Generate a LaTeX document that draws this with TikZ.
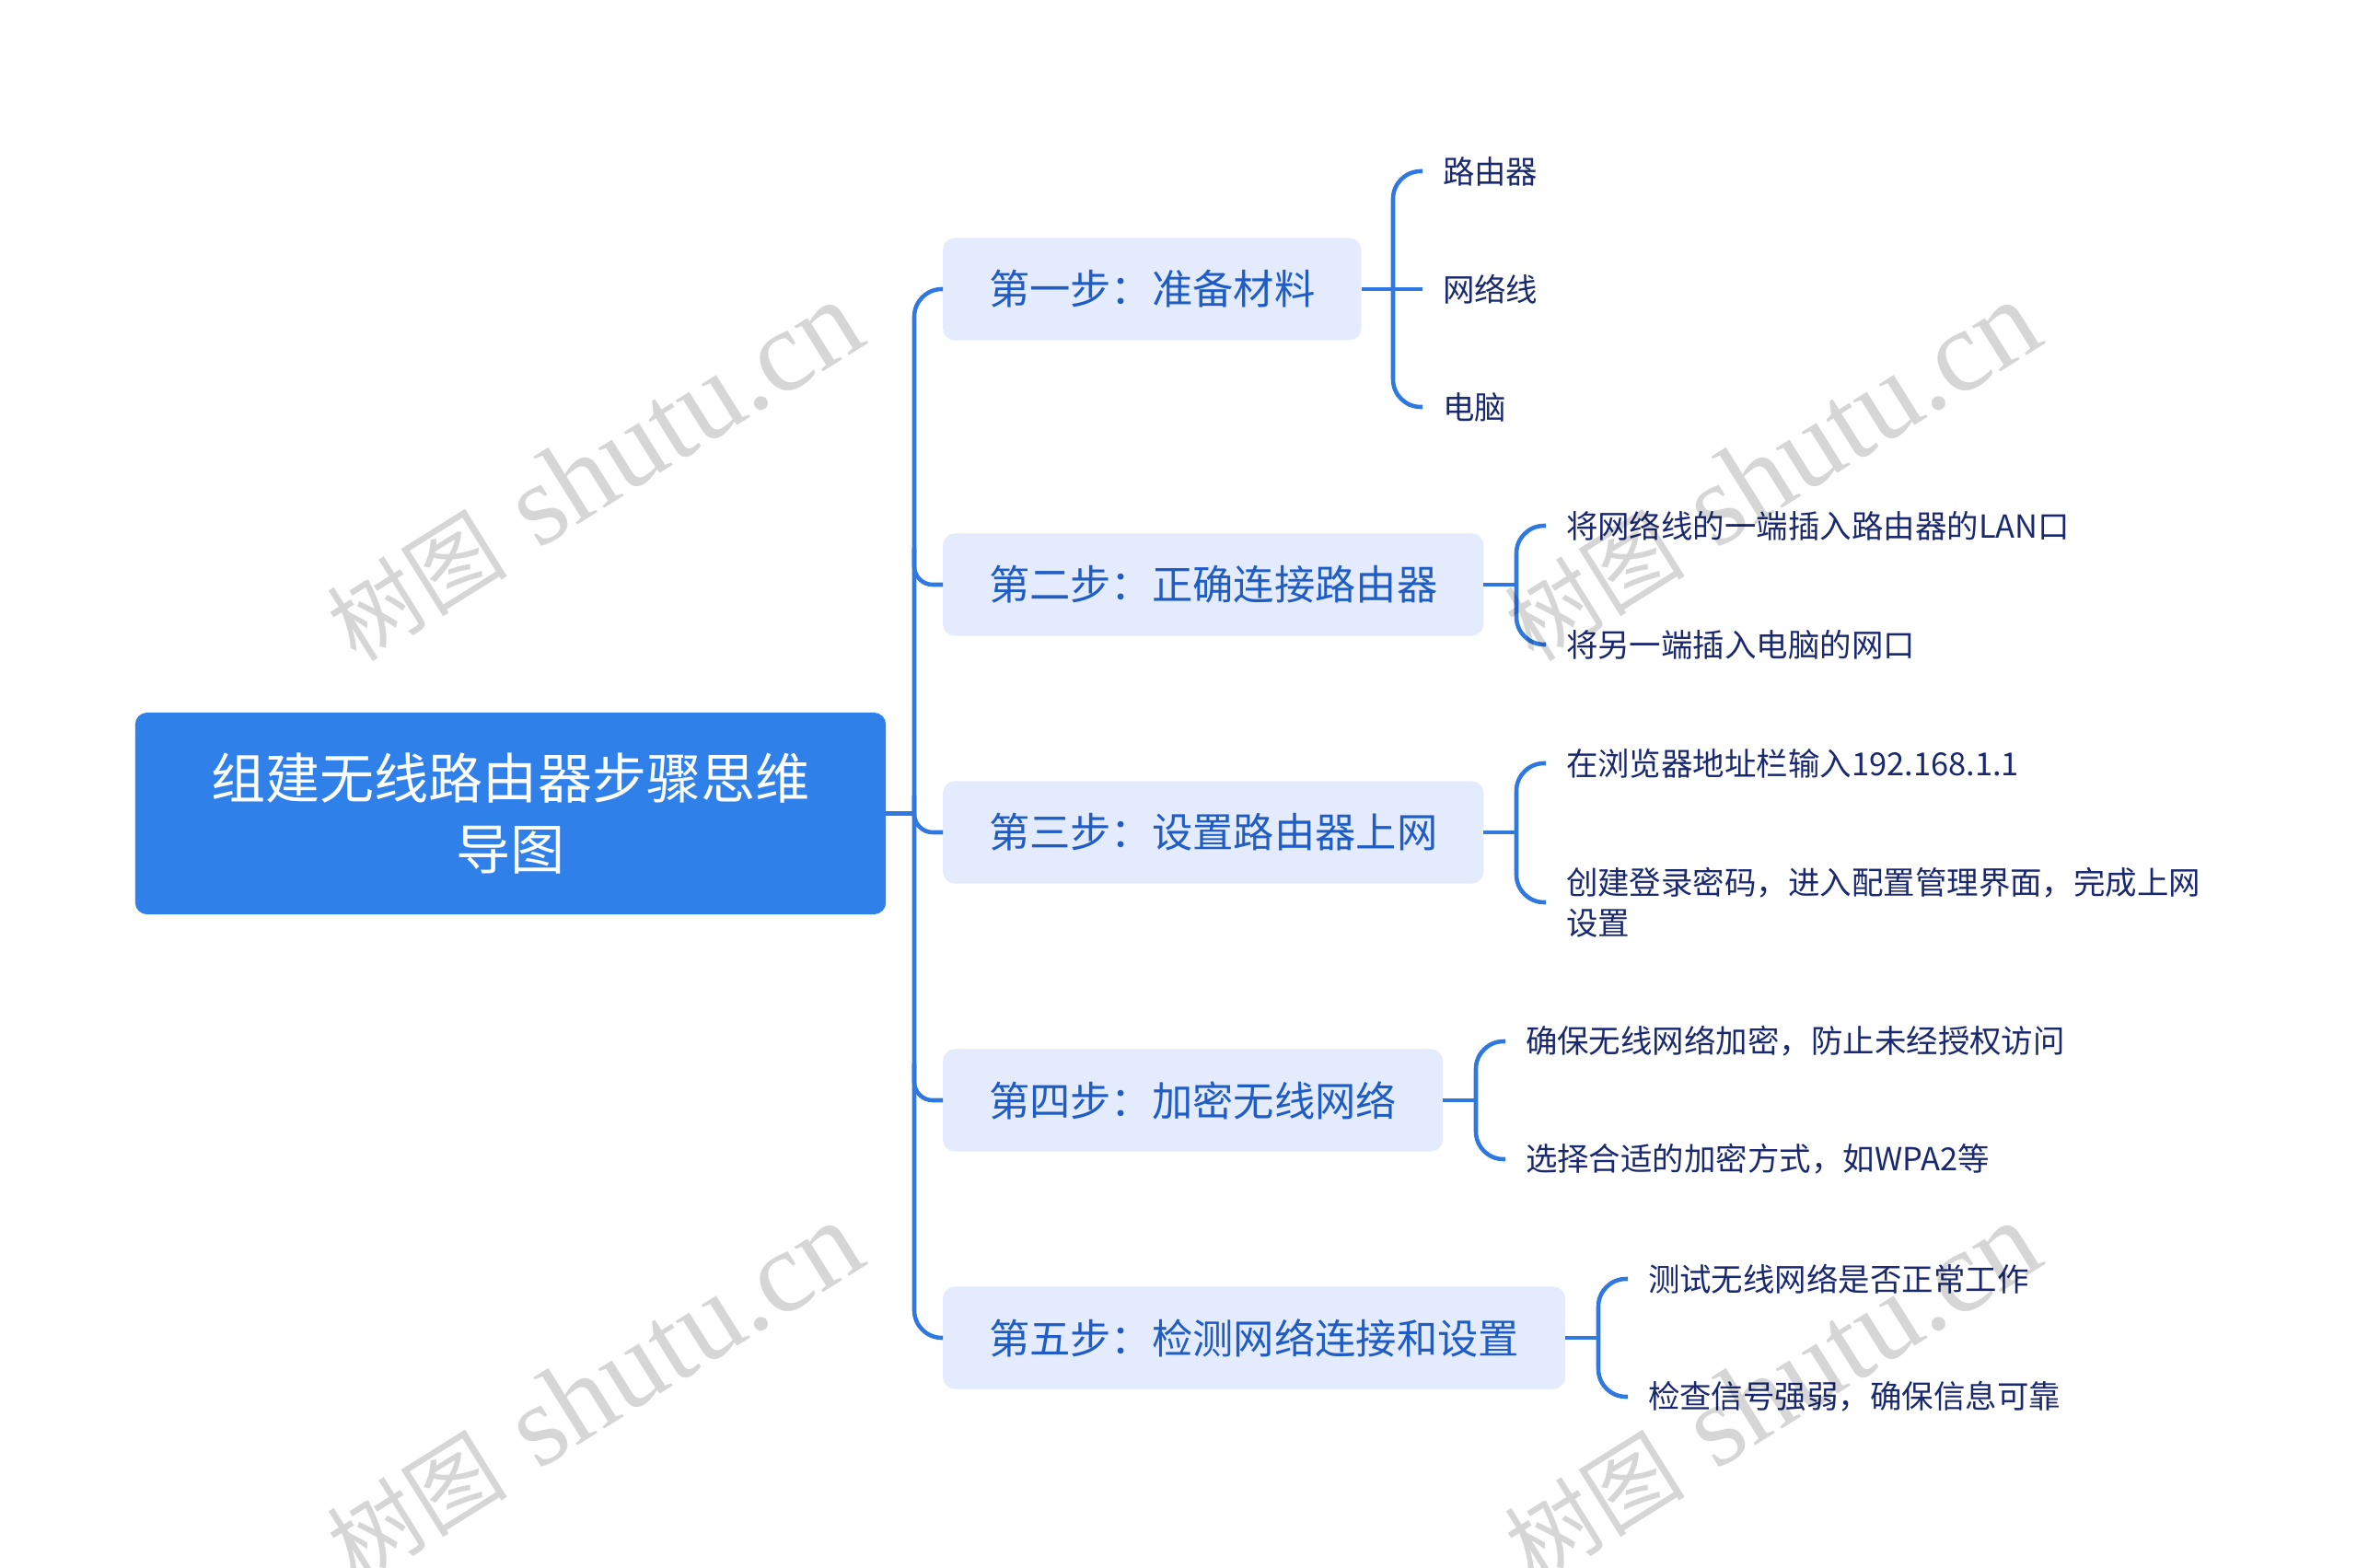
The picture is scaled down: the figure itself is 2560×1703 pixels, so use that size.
\documentclass[tikz,border=0pt]{standalone}
\usepackage{fontspec}
\newfontfamily\cjk{Noto Sans CJK SC}
\newfontfamily\wmserif{Liberation Serif}
\definecolor{rootblue}{HTML}{3080EA}
\definecolor{linkblue}{HTML}{2F78E0}
\definecolor{stepfill}{HTML}{E3EBFC}
\definecolor{steptext}{HTML}{1F5CC4}
\definecolor{leaftext}{HTML}{1A2870}

\begin{document}
\begin{tikzpicture}[x=0.01cm, y=-0.01cm,
    link/.style={draw=linkblue, line width=1.3pt},
    rootbox/.style={fill=rootblue, rounded corners=0.13cm, text=white,
        font=\cjk\fontsize{16.8}{22}\selectfont, align=center,
        minimum width=8.15cm, minimum height=2.19cm, inner sep=0pt, outer sep=0pt},
    stepbox/.style={fill=stepfill, rounded corners=0.13cm, text=steptext,
        font=\cjk\fontsize{12.6}{15}\selectfont, inner xsep=0.5cm, inner ysep=0pt,
        minimum height=1.11cm, anchor=west, outer sep=0pt},
    leafnode/.style={text=leaftext, font=\cjk\fontsize{9.8}{12.5}\selectfont,
        align=left, inner xsep=0.22cm, inner ysep=2pt, anchor=west, outer sep=0pt},
    wmtext/.style={rotate=32, text=black, opacity=0.16}]
    \useasboundingbox (0,0) rectangle (2560,1703);

    % 中心主题
    \node[rootbox] (root) at (554.5,883.5) {组建无线路由器步骤思维\\导图};

    % 五个步骤
    \node[stepbox] (s1) at (1024,314) {第一步：准备材料};
    \node[stepbox] (s2) at (1024,635) {第二步：正确连接路由器};
    \node[stepbox] (s3) at (1024,904) {第三步：设置路由器上网};
    \node[stepbox] (s4) at (1024,1195) {第四步：加密无线网络};
    \node[stepbox] (s5) at (1024,1453) {第五步：检测网络连接和设置};

    % 主干
    \coordinate (trunk) at (993,883.5);
    \draw[link] (root.east) -- (trunk);
    \draw[link, rounded corners=0.3cm] (s1.west) -| (trunk) |- (s5.west);
    \foreach \s in {s2,s3,s4}
        \draw[link, rounded corners=0.2cm] ([yshift=0.4cm]trunk |- \s.west) |- (\s.west);

    % 第一步的分支
    \node[leafnode] (l11) at (1545,186) {路由器};
    \node[leafnode] (l12) at (1545,314) {网络线};
    \node[leafnode] (l13) at (1545,442) {电脑};
    \coordinate (b1) at (1513,314);
    \draw[link] (s1.east) -- (l12.west);
    \draw[link, rounded corners=0.3cm] (l11.west) -| (b1) |- (l13.west);

    % 第二步的分支
    \node[leafnode] (l21) at (1679,571) {将网络线的一端插入路由器的LAN口};
    \node[leafnode] (l22) at (1679,700) {将另一端插入电脑的网口};
    \coordinate (b2) at (1647,635);
    \draw[link] (s2.east) -- (b2);
    \draw[link, rounded corners=0.3cm] (l21.west) -| (b2) |- (l22.west);

    % 第三步的分支
    \node[leafnode] (l31) at (1679,829) {在浏览器地址栏输入192.168.1.1};
    \node[leafnode] (l32) at (1679,980) {创建登录密码，进入配置管理界面，完成上网\\设置};
    \coordinate (b3) at (1647,904);
    \draw[link] (s3.east) -- (b3);
    \draw[link, rounded corners=0.3cm] (l31.west) -| (b3) |- (l32.west);

    % 第四步的分支
    \node[leafnode] (l41) at (1635,1131) {确保无线网络加密，防止未经授权访问};
    \node[leafnode] (l42) at (1635,1259) {选择合适的加密方式，如WPA2等};
    \coordinate (b4) at (1603,1195);
    \draw[link] (s4.east) -- (b4);
    \draw[link, rounded corners=0.3cm] (l41.west) -| (b4) |- (l42.west);

    % 第五步的分支
    \node[leafnode] (l51) at (1768,1389) {测试无线网络是否正常工作};
    \node[leafnode] (l52) at (1768,1517) {检查信号强弱，确保信息可靠};
    \coordinate (b5) at (1736,1453);
    \draw[link] (s5.east) -- (b5);
    \draw[link, rounded corners=0.3cm] (l51.west) -| (b5) |- (l52.west);

    % 水印
    \newcommand\wmlabel{{\cjk\fontsize{28}{32}\selectfont 树图}\hspace{0.35cm}{\wmserif\fontsize{36}{40}\selectfont shutu.cn}}
    \node[wmtext] (wm1) at (645,512) {\wmlabel};
    \node[wmtext] (wm2) at (1924,512) {\wmlabel};
    \node[wmtext] (wm3) at (645,1512) {\wmlabel};
    \node[wmtext] (wm4) at (1924,1512) {\wmlabel};
\end{tikzpicture}
\end{document}
